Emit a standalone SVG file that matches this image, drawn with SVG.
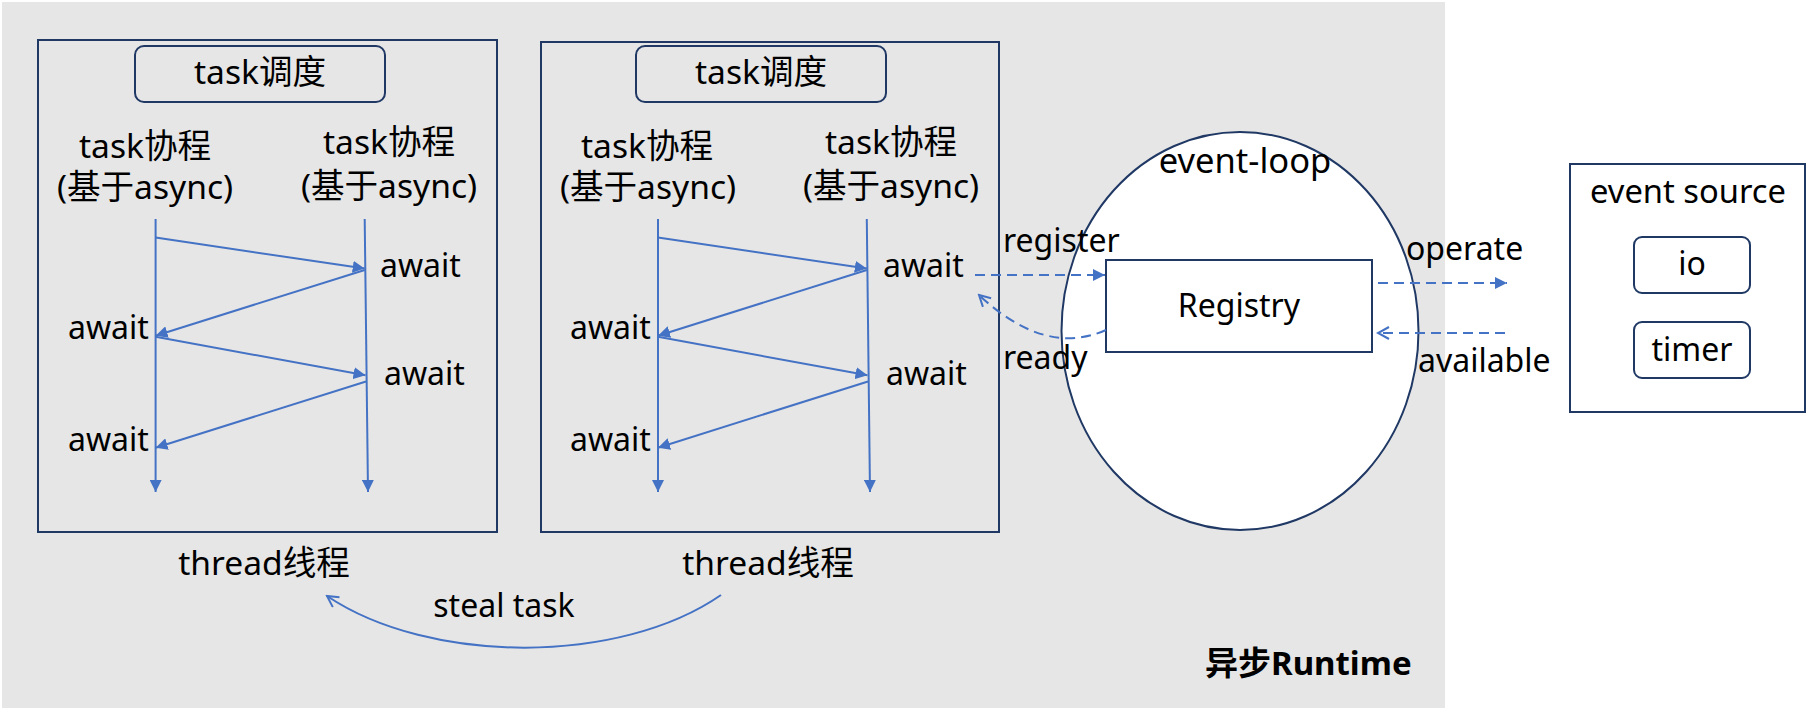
<svg xmlns="http://www.w3.org/2000/svg" width="1807" height="711" viewBox="0 0 1807 711">
<defs>
<style>
text{font-family:"Noto Sans","Noto Sans CJK SC",sans-serif;font-size:32px;fill:#000}
.c{text-anchor:middle}
.cj{font-size:33.6px}
.box{fill:none;stroke:#1f3864;stroke-width:2}
.wbox{fill:#fff;stroke:#1f3864;stroke-width:2}
.ln{fill:none;stroke:#4472c4;stroke-width:2}
.dash{fill:none;stroke:#4472c4;stroke-width:2;stroke-dasharray:10 6}
</style>
<marker id="tri" markerUnits="userSpaceOnUse" markerWidth="12" markerHeight="12" viewBox="0 0 12 12" refX="12" refY="6" orient="auto">
<path d="M0,0 L12,6 L0,12 z" fill="#4472c4"/>
</marker>
<marker id="open" markerUnits="userSpaceOnUse" markerWidth="14" markerHeight="14" viewBox="0 0 14 14" refX="12" refY="7" orient="auto">
<path d="M1,1 L12,7 L1,13" fill="none" stroke="#4472c4" stroke-width="2"/>
</marker>
</defs>
<rect x="2" y="2" width="1443" height="706" fill="#e7e6e6"/>

<g id="thread1">
<rect class="box" x="38" y="40" width="459" height="492"/>
<rect class="box" x="135" y="46" width="250" height="56" rx="9"/>
<text class="c cj" x="260" y="84">task调度</text>
<text class="c cj" x="145" y="158">task协程</text>
<text class="c cj" x="145" y="199">(基于async)</text>
<text class="c cj" x="389" y="154">task协程</text>
<text class="c cj" x="389" y="198">(基于async)</text>
<text x="380" y="277">await</text>
<text x="68" y="339">await</text>
<text x="384" y="385">await</text>
<text x="68" y="451">await</text>
<text class="c cj" x="264" y="575">thread线程</text>
</g>

<g id="thread2">
<rect class="box" x="541" y="42" width="458" height="490"/>
<rect class="box" x="636" y="46" width="250" height="56" rx="9"/>
<text class="c cj" x="761" y="84">task调度</text>
<text class="c cj" x="647" y="158">task协程</text>
<text class="c cj" x="648" y="199">(基于async)</text>
<text class="c cj" x="891" y="154">task协程</text>
<text class="c cj" x="891" y="198">(基于async)</text>
<text x="883" y="277">await</text>
<text x="570" y="339">await</text>
<text x="886" y="385">await</text>
<text x="570" y="451">await</text>
<text class="c cj" x="768" y="575">thread线程</text>
</g>

<g id="eventloop">
<ellipse class="wbox" cx="1240" cy="331" rx="178.5" ry="199"/>
<text class="c" x="1245" y="173" style="font-size:34.5px">event-loop</text>
</g>

<g id="registry">
<rect class="wbox" x="1106" y="260" width="266" height="92"/>
<text class="c" x="1239" y="317">Registry</text>
</g>

<g id="eventsource">
<rect class="wbox" x="1570" y="164" width="235" height="248"/>
<text class="c" x="1688" y="203" style="font-size:32.7px">event source</text>
</g>
<g id="io">
<rect class="wbox" x="1634" y="237" width="116" height="56" rx="8"/>
<text class="c" x="1692" y="275">io</text>
</g>
<g id="timer">
<rect class="wbox" x="1634" y="322" width="116" height="56" rx="8"/>
<text class="c" x="1692" y="361">timer</text>
</g>

<g id="runtime-label">
<text x="1205" y="675" style="font-weight:bold;font-size:33px">异步Runtime</text>
</g>

<g id="connectors">
<line class="ln" x1="155.6" y1="219" x2="155.6" y2="492" marker-end="url(#tri)"/>
<line class="ln" x1="364.7" y1="219" x2="368" y2="492" marker-end="url(#tri)"/>
<line class="ln" x1="155.6" y1="237.6" x2="364.7" y2="268.6" marker-end="url(#tri)"/>
<line class="ln" x1="364.7" y1="270" x2="155.6" y2="335.7" marker-end="url(#tri)"/>
<line class="ln" x1="155.6" y1="336.8" x2="365.5" y2="375.3" marker-end="url(#tri)"/>
<line class="ln" x1="366" y1="381.5" x2="155.6" y2="447.7" marker-end="url(#tri)"/>

<line class="ln" x1="658" y1="219" x2="658" y2="492" marker-end="url(#tri)"/>
<line class="ln" x1="866.8" y1="219" x2="870" y2="492" marker-end="url(#tri)"/>
<line class="ln" x1="658" y1="237.6" x2="866.8" y2="268.6" marker-end="url(#tri)"/>
<line class="ln" x1="866.8" y1="270" x2="658" y2="335.7" marker-end="url(#tri)"/>
<line class="ln" x1="658" y1="336.8" x2="867.5" y2="375.3" marker-end="url(#tri)"/>
<line class="ln" x1="868" y1="381.5" x2="658" y2="447.7" marker-end="url(#tri)"/>

<line class="dash" x1="975" y1="275" x2="1105" y2="275" marker-end="url(#tri)"/>
<path class="dash" d="M1106,330 Q1045,357 979,295" marker-end="url(#open)"/>
<line class="dash" x1="1378" y1="283" x2="1507" y2="283" marker-end="url(#tri)"/>
<line class="dash" x1="1505" y1="333" x2="1378" y2="333" marker-end="url(#open)"/>
<path class="ln" d="M721,595 C620,665 430,665 327,596" marker-end="url(#open)"/>

<text x="1003" y="252">register</text>
<text x="1003" y="369">ready</text>
<text x="1406" y="260">operate</text>
<text x="1418" y="372">available</text>
<text class="c" x="504" y="617">steal task</text>
</g>
</svg>
